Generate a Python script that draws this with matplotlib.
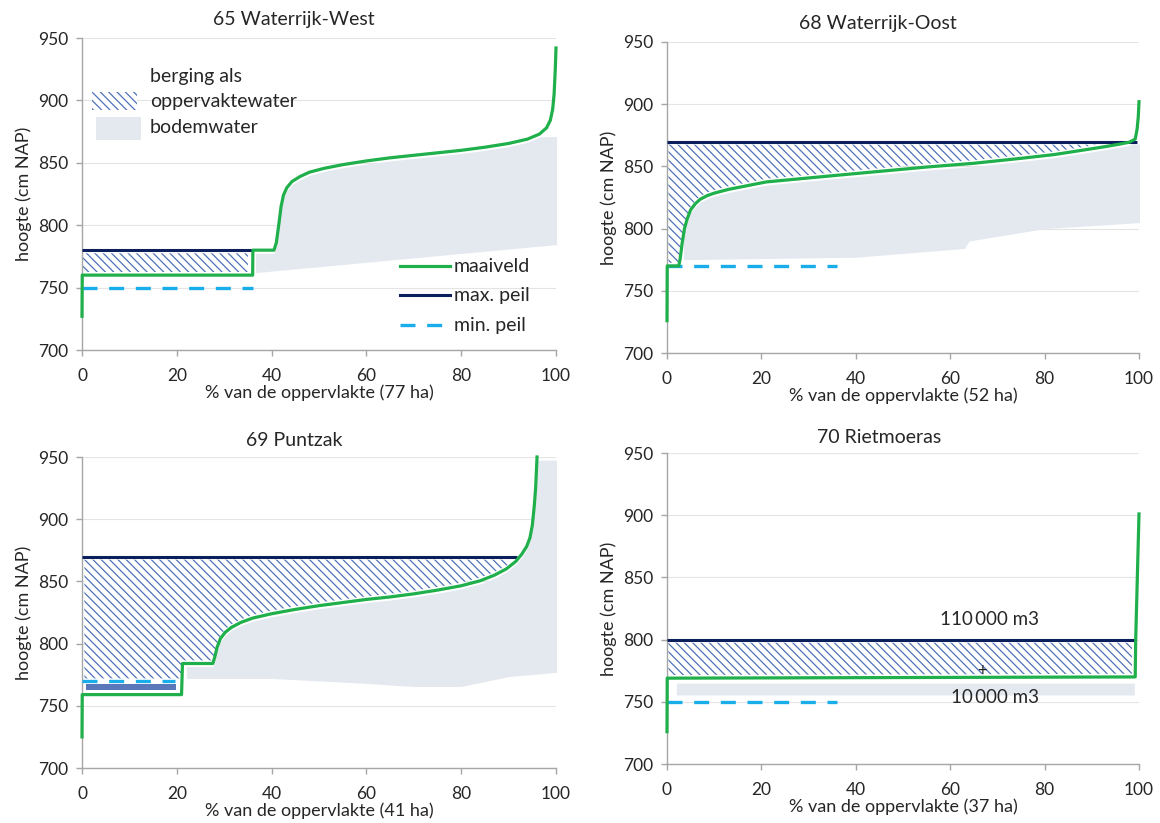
import numpy as np
import matplotlib
matplotlib.use("Agg")
import matplotlib.pyplot as plt
from matplotlib.patches import Rectangle

plt.rcParams['font.family'] = ['Lato', 'DejaVu Sans']
plt.rcParams['hatch.linewidth'] = 0.9

GREEN = '#1fb04b'
NAVY = '#0b1f5c'
CYAN = '#19aeea'
HATCH = '#4f72b8'
SOIL = '#e4e9f0'
AXIS = '#a6a6a6'
TEXT = '#262626'

# ---- panel data ---------------------------------------------------------
titles = ['65 Waterrijk-West', '68 Waterrijk-Oost', '69 Puntzak', '70 Rietmoeras']
areas_ha = [77, 52, 41, 37]

# maaiveld (ground level, cm NAP) against % of area
mv_x = [
    [0, 0.05, 36, 36.05, 40.5, 41, 41.5, 42, 42.5, 43.2, 44.3, 46, 48, 51, 55, 60, 65, 70, 75, 80,
     85, 90, 94, 96.5, 98, 98.8, 99.3, 99.6, 99.85, 100],
    [0, 0.05, 2.5, 2.8, 3.2, 3.7, 4.3, 5, 6, 7, 8.5, 10, 13, 17, 21, 28, 35, 45, 55, 65, 75, 82,
     88, 93, 96, 98, 99.2, 99.6, 99.85, 100],
    [0, 0.05, 21, 21.2, 27.6, 28, 28.5, 29.2, 30.2, 31.5, 33.5, 36, 40, 45, 50, 55, 60, 65, 70, 75,
     80, 84, 87, 89.5, 91.5, 92.8, 93.8, 94.5, 95, 95.4, 95.7, 96],
    [0, 0.05, 99.2, 99.3, 100],
]
mv_y = [
    [727, 760, 760, 780, 780, 786, 800, 815, 824, 830, 835, 839, 842.5, 845.5, 848.5, 851.5, 854,
     856, 858, 860, 862.5, 865.5, 869, 873, 878, 884, 893, 905, 925, 942],
    [726, 770, 770, 776, 788, 800, 808, 815, 820, 823.5, 826.5, 828.5, 831.5, 834.5, 837.5, 840,
     842.5, 846, 849.5, 852.5, 856.5, 859.5, 863, 866, 868, 869.5, 872, 880, 890, 902],
    [725, 759, 759, 784, 784, 789, 797, 804, 809, 813, 817, 820.5, 824, 827.5, 830.5, 833, 835.5,
     837.5, 840, 843, 846.5, 850.5, 855, 860, 866, 872, 878, 885, 895, 910, 925, 950],
    [726, 769, 770, 800, 901],
]

# max. peil / min. peil (cm NAP) and the % range over which they are drawn
max_peil = [780, 870, 870, 800]
max_peil_x = [(0, 36), (0, 99.5), (0, 91.8), (0, 99.3)]
min_peil = [750, 770, 770, 750]
min_peil_x = [(0, 36), (0, 36), (0, 19.6), (0, 36)]

# storage as surface water: hatched between ground level and max. peil
hatch_x = [(0.2, 35), (0.3, 97), (0.5, 90), (0.3, 98.5)]
hatch_floor = [0, 0, 772, 0]

# storage as soil water: lower edge of the band
soil_x = [
    [36.6, 101.6],
    [3.5, 40, 63, 64, 80, 101],
    [22, 40, 60, 70, 80, 90, 100.5],
    [2, 99],
]
soil_bottom = [
    [762, 785],
    [775, 777, 784, 790, 800, 805],
    [772, 772, 768, 765.5, 765.5, 773.5, 777],
    [755.5, 755.5],
]
soil_cap = [871, 868, 950, 765]

# ---- layout (figure fractions) -----------------------------------------
W, H = 1160, 823
boxes_px = [(82, 38, 556, 350), (667, 42, 1139, 353), (82, 457, 556, 768), (667, 453, 1139, 764)]
title_px = [(294, 20), (878, 24), (294, 441), (879, 437)]

fig = plt.figure(figsize=(W / 100, H / 100), dpi=100)

for i in range(4):
    x0, y0, x1, y1 = boxes_px[i]
    ax = fig.add_axes([x0 / W, 1 - y1 / H, (x1 - x0) / W, (y1 - y0) / H])
    ax.set_xlim(0, 100)
    ax.set_ylim(700, 950)
    ax.set_xticks(range(0, 101, 20))
    ax.set_yticks(range(700, 951, 50))
    ax.grid(axis='y', color='#e4e4e4', lw=0.8, zorder=0)
    ax.set_axisbelow(True)
    for s in ['top', 'right']:
        ax.spines[s].set_visible(False)
    for s in ['left', 'bottom']:
        ax.spines[s].set_color(AXIS)
        ax.spines[s].set_linewidth(1.0)
    ax.tick_params(axis='both', colors=AXIS, labelcolor=TEXT, labelsize=12.5, length=4, width=1.0)
    ax.tick_params(axis='x', pad=9)
    ax.tick_params(axis='y', pad=6)
    ax.set_xlabel(f'% van de oppervlakte ({areas_ha[i]} ha)', fontsize=13, color=TEXT, labelpad=0)
    ax.set_ylabel('hoogte (cm NAP)', fontsize=13, color=TEXT, labelpad=4)
    fig.text(title_px[i][0] / W, 1 - title_px[i][1] / H, titles[i], ha='center', va='center',
             fontsize=14, color=TEXT)

    mx = np.array(mv_x[i], float)
    my = np.array(mv_y[i], float)

    # soil water band
    sx = np.linspace(soil_x[i][0], soil_x[i][-1], 800)
    s_bot = np.interp(sx, soil_x[i], soil_bottom[i])
    s_top = np.minimum(np.interp(sx, mx, my) - 2.5, soil_cap[i])
    ax.fill_between(sx, s_bot, s_top, where=s_top > s_bot, color=SOIL, lw=0, zorder=1)

    # surface water storage (hatched)
    hx = np.linspace(hatch_x[i][0], hatch_x[i][1], 1000)
    h_low = np.maximum(np.interp(hx, mx, my) + 2.5, hatch_floor[i])
    h_up = np.full_like(hx, max_peil[i] - 2.5)
    ax.fill_between(hx, h_low, h_up, where=h_up > h_low, facecolor='white', edgecolor=HATCH,
                    hatch='\\\\\\\\', lw=0, zorder=2)

    if i == 2:
        # narrow band between ground level and min. peil
        ax.fill_between([0.8, 19.8], 762.8, 767.6, color='#5a77b9', lw=0, zorder=2)

    ax.plot(max_peil_x[i], [max_peil[i]] * 2, color=NAVY, lw=2.2, zorder=3, solid_capstyle='butt')
    ax.plot(min_peil_x[i], [min_peil[i]] * 2, color=CYAN, lw=2.4, zorder=3,
            dashes=(4.5, 3.5), dash_capstyle='butt')
    ax.plot(mx, my, color=GREEN, lw=2.3, zorder=4, solid_joinstyle='round', clip_on=False)

    if i == 0:
        ax.add_patch(Rectangle((2.2, 892), 9.4, 15, facecolor='white', edgecolor=HATCH,
                               hatch='\\\\\\\\', lw=0, zorder=2))
        ax.add_patch(Rectangle((3.0, 868), 9.4, 19, facecolor=SOIL, lw=0, zorder=2))
        ax.text(14.3, 919, 'berging als', fontsize=14, color=TEXT, va='center')
        ax.text(14.3, 899, 'oppervaktewater', fontsize=14, color=TEXT, va='center')
        ax.text(14.3, 878, 'bodemwater', fontsize=14, color=TEXT, va='center')
        ax.plot([67.1, 77.7], [767, 767], color=GREEN, lw=2.3, zorder=4)
        ax.plot([67.1, 77.7], [744, 744], color=NAVY, lw=2.2, zorder=4)
        ax.plot([67.1, 77.7], [720, 720], color=CYAN, lw=2.4, zorder=4,
                dashes=(4.5, 3.5), dash_capstyle='butt')
        ax.text(78.5, 767, 'maaiveld', fontsize=14, color=TEXT, va='center')
        ax.text(78.5, 744, 'max. peil', fontsize=14, color=TEXT, va='center')
        ax.text(78.5, 720, 'min. peil', fontsize=14, color=TEXT, va='center')

    if i == 3:
        ax.text(68.3, 816.4, '110\u2009000 m3', fontsize=13.5, color=TEXT, ha='center', va='center')
        ax.text(66.7, 775, '+', fontsize=12, color=TEXT, ha='center', va='center', zorder=5)
        ax.text(69.5, 753.5, '10\u2009000 m3', fontsize=13.5, color=TEXT, ha='center', va='center')

fig.savefig('out.png', dpi=100, facecolor='white')
